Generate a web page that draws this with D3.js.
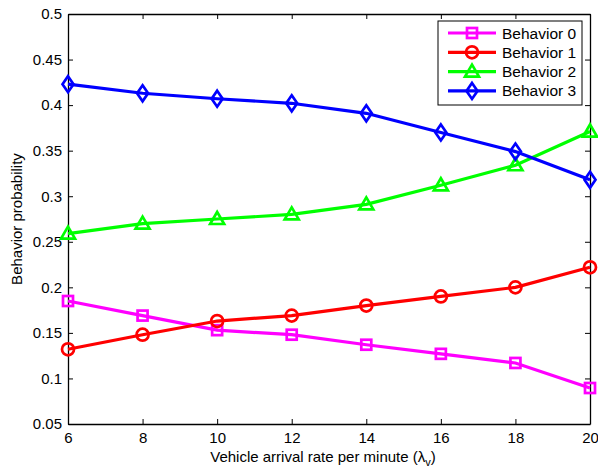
<!DOCTYPE html>
<html>
<head>
<meta charset="utf-8">
<script src="https://cdn.jsdelivr.net/npm/d3@7"></script>
<style>
  body { margin: 0; background: white; }
  text { font-family: "Liberation Sans", Arial, sans-serif; }
</style>
</head>
<body>
<div id="chart"></div>
<script>
let w = 598;
let h = 471;

// data
let rates = [6, 8, 10, 12, 14, 16, 18, 20];
let behavior0 = [0.185, 0.169, 0.153, 0.148, 0.137, 0.127, 0.117, 0.0895];
let behavior1 = [0.132, 0.148, 0.163, 0.169, 0.180, 0.190, 0.200, 0.222];
let behavior2 = [0.259, 0.270, 0.275, 0.280, 0.291, 0.312, 0.334, 0.371];
let behavior3 = [0.423, 0.413, 0.407, 0.402, 0.391, 0.370, 0.349, 0.318];
let seriesNames = ["Behavior 0", "Behavior 1", "Behavior 2", "Behavior 3"];
let seriesColors = ["#ff00ff", "#ff0000", "#00ff00", "#0000ff"];
let seriesMarkers = ["square", "circle", "triangle", "diamond"];
let xTicks = [6, 8, 10, 12, 14, 16, 18, 20];
let yTicks = [0.05, 0.1, 0.15, 0.2, 0.25, 0.3, 0.35, 0.4, 0.45, 0.5];

let allSeries = [behavior0, behavior1, behavior2, behavior3].map((vals, i) => {
  return {
    name: seriesNames[i],
    color: seriesColors[i],
    marker: seriesMarkers[i],
    points: vals.map((v, j) => [rates[j], v])
  };
});

let plotLeft = 68, plotRight = 590, plotTop = 14, plotBottom = 424;

let xScale = d3.scaleLinear().domain([6, 20]).range([plotLeft, plotRight]);
let yScale = d3.scaleLinear().domain([0.05, 0.5]).range([plotBottom, plotTop]);

let viz = d3.select("#chart")
  .append("svg")
  .attr("width", w)
  .attr("height", h)
  .style("background-color", "white");

// axes: ticks pointing inward, on all four sides
let fmt = d => String(+d.toFixed(2));

viz.append("g")
  .attr("transform", "translate(0," + plotBottom + ")")
  .call(d3.axisBottom(xScale).tickValues(xTicks).tickSizeInner(-5).tickSizeOuter(0).tickPadding(8).tickFormat(fmt));
viz.append("g")
  .attr("transform", "translate(0," + plotTop + ")")
  .call(d3.axisTop(xScale).tickValues(xTicks).tickSizeInner(-5).tickSizeOuter(0).tickFormat(""));
viz.append("g")
  .attr("transform", "translate(" + plotLeft + ",0)")
  .call(d3.axisLeft(yScale).tickValues(yTicks).tickSizeInner(-5).tickSizeOuter(0).tickPadding(6).tickFormat(fmt));
viz.append("g")
  .attr("transform", "translate(" + plotRight + ",0)")
  .call(d3.axisRight(yScale).tickValues(yTicks).tickSizeInner(-5).tickSizeOuter(0).tickFormat(""));

viz.selectAll(".domain").attr("stroke", "black").attr("stroke-width", 1.3);
viz.selectAll(".tick line").attr("stroke", "black").attr("stroke-width", 1);
viz.selectAll(".tick text").attr("font-size", 15).attr("fill", "black");

// lines and markers
let line = d3.line().x(d => xScale(d[0])).y(d => yScale(d[1]));

function drawMarker(g, type, color) {
  if (type == "square") {
    g.append("rect").attr("x", -5).attr("y", -5).attr("width", 10).attr("height", 10);
  } else if (type == "circle") {
    g.append("circle").attr("r", 6);
  } else if (type == "triangle") {
    g.append("path").attr("d", "M0,-7L7,5L-7,5Z");
  } else {
    g.append("path").attr("d", "M0,-8L5.5,0L0,8L-5.5,0Z");
  }
  g.selectAll("*")
    .attr("fill", "none")
    .attr("stroke", color)
    .attr("stroke-width", 2.7);
}

let plotGroup = viz.append("g").attr("class", "plotGroup");

allSeries.forEach(s => {
  plotGroup.append("path")
    .datum(s.points)
    .attr("d", line)
    .attr("fill", "none")
    .attr("stroke", s.color)
    .attr("stroke-width", 3.2);

  plotGroup.selectAll(".m-" + s.marker)
    .data(s.points)
    .enter()
    .append("g")
    .attr("class", "m-" + s.marker)
    .attr("transform", d => "translate(" + xScale(d[0]) + "," + yScale(d[1]) + ")")
    .each(function () { drawMarker(d3.select(this), s.marker, s.color); });
});

// legend
let legend = viz.append("g").attr("class", "legend");
legend.append("rect")
  .attr("x", 438).attr("y", 21)
  .attr("width", 144).attr("height", 84)
  .attr("fill", "white")
  .attr("stroke", "black")
  .attr("stroke-width", 1);

allSeries.forEach((s, i) => {
  let y = 33 + i * 19.3;
  legend.append("line")
    .attr("x1", 448).attr("x2", 496)
    .attr("y1", y).attr("y2", y)
    .attr("stroke", s.color)
    .attr("stroke-width", 3.2);
  let mg = legend.append("g").attr("transform", "translate(472," + y + ")");
  drawMarker(mg, s.marker, s.color);
  legend.append("text")
    .attr("x", 502).attr("y", y + 5.5)
    .attr("font-size", 15.5)
    .attr("fill", "black")
    .text(s.name);
});

// axis labels
let xLabel = viz.append("text")
  .attr("x", (plotLeft + plotRight) / 2 - 6)
  .attr("y", 462)
  .attr("text-anchor", "middle")
  .attr("font-size", 15)
  .attr("fill", "black");
xLabel.append("tspan").text("Vehicle arrival rate per minute (\u03bb");
xLabel.append("tspan").attr("font-size", 11).attr("dy", 4).text("v");
xLabel.append("tspan").attr("dy", -4).text(")");

viz.append("text")
  .attr("transform", "translate(22," + (plotTop + plotBottom) / 2 + ") rotate(-90)")
  .attr("text-anchor", "middle")
  .attr("font-size", 15)
  .attr("fill", "black")
  .text("Behavior probability");
</script>
</body>
</html>
